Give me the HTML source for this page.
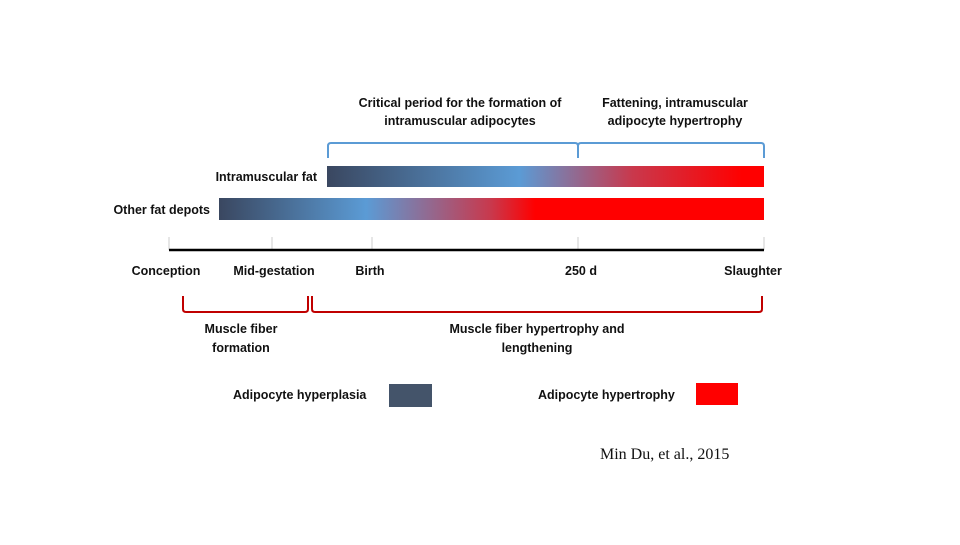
<!DOCTYPE html>
<html><head><meta charset="utf-8"><style>
body{margin:0;background:#fff}
svg text{font-family:"Liberation Sans",sans-serif;font-weight:bold;font-size:12.5px;fill:#111}
</style></head><body>
<svg width="960" height="540">
<defs>
<linearGradient id="gi" x1="327" x2="764" gradientUnits="userSpaceOnUse">
<stop offset="0" stop-color="#3a4760"/><stop offset="0.44" stop-color="#5b9bd5"/><stop offset="0.7" stop-color="#c9384c"/><stop offset="0.95" stop-color="#ff0000"/></linearGradient>
<linearGradient id="go" x1="219" x2="764" gradientUnits="userSpaceOnUse">
<stop offset="0" stop-color="#3a4760"/><stop offset="0.27" stop-color="#5b9bd5"/><stop offset="0.5" stop-color="#c9384c"/><stop offset="0.58" stop-color="#ff0000"/><stop offset="1" stop-color="#ff0000"/></linearGradient>
</defs>
<text x="460" y="107" text-anchor="middle">Critical period for the formation of</text>
<text x="460" y="125" text-anchor="middle">intramuscular adipocytes</text>
<text x="675" y="107" text-anchor="middle">Fattening, intramuscular</text>
<text x="675" y="125" text-anchor="middle">adipocyte hypertrophy</text>
<path d="M328,158 V146 Q328,143 331,143 H575 Q578,143 578,146 V158 M578,146 Q578,143 581,143 H761 Q764,143 764,146 V158" fill="none" stroke="#5b9bd5" stroke-width="2"/>
<text x="317" y="181" text-anchor="end">Intramuscular fat</text>
<rect x="327" y="166" width="437" height="21" fill="url(#gi)"/>
<text x="210" y="214" text-anchor="end">Other fat depots</text>
<rect x="219" y="198" width="545" height="22" fill="url(#go)"/>
<g stroke="#ccc" stroke-width="1">
<line x1="169" y1="237" x2="169" y2="250"/><line x1="272" y1="237" x2="272" y2="250"/><line x1="372" y1="237" x2="372" y2="250"/><line x1="578" y1="237" x2="578" y2="250"/><line x1="764" y1="237" x2="764" y2="250"/></g>
<line x1="169" y1="250" x2="764" y2="250" stroke="#000" stroke-width="2.5"/>
<text x="166" y="275" text-anchor="middle">Conception</text>
<text x="274" y="275" text-anchor="middle">Mid-gestation</text>
<text x="370" y="275" text-anchor="middle">Birth</text>
<text x="581" y="275" text-anchor="middle">250 d</text>
<text x="753" y="275" text-anchor="middle">Slaughter</text>
<path d="M183,296 V309 Q183,312 186,312 H305 Q308,312 308,309 V296 M312,296 V309 Q312,312 315,312 H759 Q762,312 762,309 V296" fill="none" stroke="#c00000" stroke-width="2"/>
<text x="241" y="333" text-anchor="middle">Muscle fiber</text>
<text x="241" y="352" text-anchor="middle">formation</text>
<text x="537" y="333" text-anchor="middle">Muscle fiber hypertrophy and</text>
<text x="537" y="352" text-anchor="middle">lengthening</text>
<text x="233" y="399">Adipocyte hyperplasia</text>
<rect x="389" y="384" width="43" height="23" fill="#44546a"/>
<text x="538" y="399">Adipocyte hypertrophy</text>
<rect x="696" y="383" width="42" height="22" fill="#ff0000"/>
<text x="600" y="459" style="font-family:'Liberation Serif',serif;font-weight:normal;font-size:16px">Min Du, et al., 2015</text>
</svg>
</body></html>
